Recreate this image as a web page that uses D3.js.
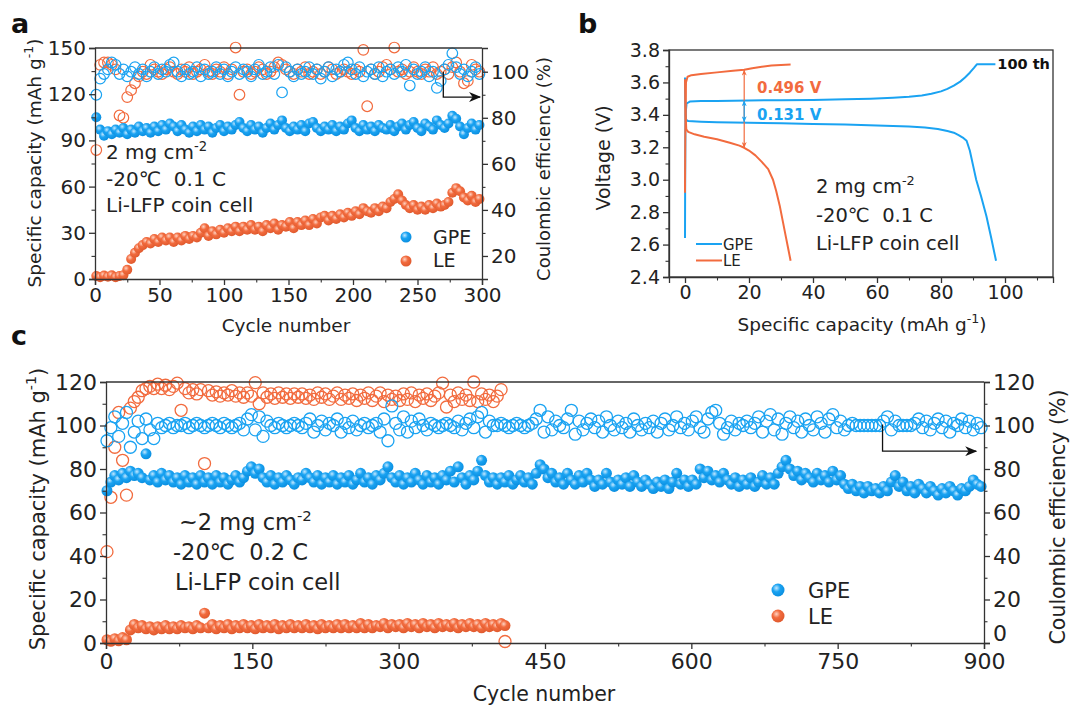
<!DOCTYPE html>
<html>
<head>
<meta charset="utf-8">
<title>GPE vs LE cycling at -20 C</title>
<script src="https://cdnjs.cloudflare.com/ajax/libs/d3/7.8.5/d3.min.js"></script>
<style>
  body { margin: 0; background: #fff; }
  text { font-family: 'DejaVu Sans', Arial, sans-serif; fill: #222; }
</style>
</head>
<body>
<script>
// ---- panel a : 0.1 C, every 3rd cycle (1, 4, 7 ... 298) ----
var aStep = 3;
var aGpeCap = [105,97,93,96,94,97,95,98,94,97,95,99,96,98,95,99,96,100,97,101,
  99,96,100,97,95,99,96,100,97,99,95,98,100,96,99,97,100,102,98,96,
  100,97,99,95,98,101,97,100,103,98,96,99,97,100,96,101,102,98,96,99,
  97,100,96,99,97,101,103,98,96,100,97,99,96,100,98,97,100,96,99,101,
  97,100,102,98,96,101,99,97,103,100,98,101,106,104,99,94,98,101,97,100];
var aGpeCe = [90,97,99,101,104,103,99,101,98,100,102,99,101,98,100,102,99,101,100,103,
  104,100,98,101,99,100,102,98,101,99,100,102,99,101,98,100,102,99,101,100,
  98,101,103,99,100,102,99,103,91,102,100,98,101,99,100,102,99,101,97,100,
  102,98,101,100,103,104,101,99,102,98,100,101,99,102,98,100,101,99,102,100,
  103,94,101,99,100,102,98,100,93,96,101,103,108,102,99,101,98,100,102,99];
var aLeCap = [2,1.2,2.2,1.5,2.4,1.2,2,2.5,6,13,17,20,22,24,23,26,24,27,25,27,
  24,27,25,28,26,28,27,30,33,28,31,29,32,30,33,31,34,31,34,32,
  35,32,34,31,35,33,36,32,35,34,37,33,37,35,38,35,39,36,40,41,
  38,41,39,42,40,43,41,44,42,46,44,43,46,44,47,46,50,52,55,51,
  48,46,48,45,47,45,48,46,49,47,48,50,56,59,57,53,51,54,50,52];
var aLeCe = [66,103,104,104,103,101,81,80,89,92,95,98,100,99,103,101,100,99,101,102,
  100,99,101,100,102,99,100,101,103,100,99,101,100,102,99,101,110.5,90,100,101,
  99,100,102,101,99,100,102,104,103,101,100,99,101,100,102,99,100,101,99,100,
  102,101,99,100,101,100,99,101,100,109.5,85,101,99,100,102,103,101,110.5,100,101,
  99,100,102,100,99,101,100,102,99,100,101,99,102,104,100,95,96,103,101,100];

// ---- panel b : voltage profiles, 100th cycle, [capacity, V] ----
var bGpeCharge = [[0,2.64],[0.05,3.0],[0.15,3.4],[0.5,3.47],[1.5,3.482],[5,3.485],[10,3.486],[20,3.489],[30,3.49],
  [40,3.492],[50,3.496],[58,3.5],[65,3.506],[70,3.512],[74,3.52],[77,3.53],[80,3.545],[82,3.56],[84,3.58],
  [86,3.605],[87.5,3.63],[89,3.66],[90.3,3.69],[91.2,3.712],[97,3.712]];
var bGpeDischarge = [[0,3.63],[0.1,3.45],[0.3,3.37],[1,3.362],[5,3.358],[10,3.355],[20,3.352],[30,3.348],
  [40,3.344],[50,3.34],[60,3.335],[70,3.328],[75,3.322],[79,3.313],[82,3.3],[84,3.29],[85.5,3.275],
  [86.8,3.26],[88,3.24],[89,3.18],[90,3.09],[91,3.0],[92.5,2.9],[94.2,2.775],[95.7,2.64],[97.2,2.5]];
var bLeCharge = [[0,2.92],[0.1,3.3],[0.3,3.6],[0.8,3.635],[2,3.645],[5,3.652],[10,3.662],[15,3.672],
  [18.5,3.678],[21,3.688],[24,3.697],[27,3.704],[30,3.708],[33,3.71]];
var bLeDischarge = [[0,3.62],[0.15,3.42],[0.4,3.31],[1,3.295],[3,3.28],[6,3.265],[10,3.25],[14,3.228],
  [17,3.21],[18.5,3.197],[20,3.18],[22,3.15],[24,3.11],[26,3.065],[27.5,3.0],[28.5,2.93],[29.6,2.84],
  [30.6,2.74],[31.6,2.64],[32.4,2.56],[33,2.5]];
var bGap = {cap: 18.5, le: [3.676, 3.199], gpe: [3.487, 3.357]};

// ---- panel c : 0.2 C, every 4th cycle (1, 5, 9 ...) ----
var cStep = 4;
var cGpeCap = [70,74,77,75,78,76,79,77,78,76,87,75,77,74,78,75,77,74,76,73,77,74,76,73,77,
  74,76,73,77,74,76,73,75,77,74,76,79,81,78,80,76,74,77,73,76,74,77,75,73,76,
  75,78,76,74,77,73,76,74,77,73,76,74,77,73,75,78,74,76,73,77,75,78,81,76,74,
  77,73,76,74,78,75,73,77,74,76,73,77,75,79,74,81,76,73,77,75,79,84,77,74,76,
  73,76,74,77,73,75,77,74,76,73,78,82,80,76,78,74,76,73,78,75,73,77,74,78,75,
  72,75,73,78,74,72,75,73,76,72,77,74,72,75,73,71,74,72,75,71,74,78,73,75,72,
  75,73,80,76,79,75,77,74,78,75,73,76,72,75,73,76,72,74,77,73,76,73,78,81,84,
  80,77,79,75,78,76,74,78,75,77,74,79,75,77,73,71,73,70,72,69,72,70,71,69,72,
  70,74,77,72,74,70,72,69,73,71,69,72,70,68,71,69,72,70,68,71,70,72,75,73,72];
var cGpeCe = [93,99,104,95,101,106,90,97,102,94,103,98,94,101,99,100,101,99,100,100,101,99,100,101,100,
  99,100,101,100,99,101,100,99,100,101,98,103,105,98,104,95,102,100,99,101,100,99,100,101,100,
  99,101,103,97,100,102,98,101,100,103,97,101,99,102,98,100,101,99,100,101,97,103,93,109,101,
  98,104,97,102,99,103,100,98,101,100,99,100,101,100,99,102,98,101,103,99,104,106,97,102,100,
  100,101,100,99,100,101,100,99,100,101,103,107,97,104,98,102,100,99,103,107,96,102,98,101,103,
  99,102,97,104,100,98,102,99,101,97,103,100,98,101,99,102,97,101,103,98,100,104,99,101,98,
  102,104,99,97,103,106,107,101,96,99,102,98,101,100,102,99,101,104,97,102,105,98,103,96,101,
  104,99,102,97,103,100,98,104,101,97,103,105,99,102,98,100,101,100,100,100,100,100,100,100,102,
  104,98,102,100,100,100,100,101,103,99,102,98,101,103,99,102,97,101,100,103,99,102,98,101,99];
var cLeCap = [1.5,0.8,2,1,2.5,1.5,6,8.5,7,8,6.5,7.5,6,7.5,6.5,8,6.5,7.5,6.5,8,7,7.5,6.5,8,7,
  13.7,7,8.5,6.5,8,7,8.5,6.5,8,7,8.5,7,8,6.5,8.5,7,8,7,8.5,6.5,8,7,8.5,7,8,
  7,8.5,7,8,6.5,8.5,7,8,7,8.5,7,8.5,7,8,7,9,7,8.5,7,8,7.5,9,7,8.5,7.5,
  8.5,7,9,7.5,8.5,7,9,7.5,8.5,7,9,7.5,8.5,7.5,9,7,8.5,7.5,9,7.5,8.5,7,9,7.5,8.5,
  7.5,9,8];
var cLeCe = [42,67,90,106,84,68,108,111,113,116,117,118,117,119,117,118.5,116.5,118,119.5,107,117,115,116.5,114.5,116.5,
  82.5,116,114,115.5,113.5,115,114,116,113.5,115,113,115,113.5,119.7,110,115,113,114.5,112.5,115,113,114.5,112.5,114.5,113,
  114.5,112.5,114,112,115,113,114.5,112,113.5,115,112,114,112.5,114.5,111.5,114,112.5,115,111.5,113.5,115,111,114,112,113.5,
  111.5,114.5,112,115,111,114,112.5,114.5,111.5,113.5,115,119.5,108.5,114,111,115,112,114,111.5,120,111,114.5,112,114,111,
  113.5,116.5,0.7];

var blue = "#1aa3f2", orange = "#f26b3e", ink = "#333";
var FONT = "'DejaVu Sans', Arial, sans-serif";

var svg = d3.select("body").append("svg").attr("width", 1071).attr("height", 709);
var defs = svg.append("defs");

function ball(id, light, mid, dark) {
  var gr = defs.append("radialGradient").attr("id", id)
    .attr("cx", "38%").attr("cy", "35%").attr("r", "65%");
  gr.append("stop").attr("offset", "0%").attr("stop-color", light);
  gr.append("stop").attr("offset", "45%").attr("stop-color", mid);
  gr.append("stop").attr("offset", "100%").attr("stop-color", dark);
}
ball("ballB", "#c4e8ff", blue, "#0b8fe0");
ball("ballO", "#ffd3c2", orange, "#e05a2e");

function arrowMarker(id, color, w, h) {
  defs.append("marker").attr("id", id).attr("viewBox", "0 0 12 10")
    .attr("refX", 11).attr("refY", 5).attr("markerWidth", w).attr("markerHeight", h)
    .attr("markerUnits", "userSpaceOnUse").attr("orient", "auto-start-reverse")
    .append("path").attr("d", "M0,0 L12,5 L0,10 L3.5,5 Z").attr("fill", color);
}
arrowMarker("arrK", "#111", 14, 10);
arrowMarker("arrO", orange, 6, 5);
arrowMarker("arrB", blue, 6, 5);

function styleAxis(g, fs) {
  g.select(".domain").attr("stroke", ink).attr("stroke-width", 1.3);
  g.selectAll(".tick line").attr("stroke", ink).attr("stroke-width", 1.3);
  g.selectAll(".tick text").attr("fill", "#222").style("font-size", fs + "px").style("font-family", FONT);
}
function drawAxis(pos, make, scale, major, minor, fs, fmt, pad) {
  var gm = svg.append("g").attr("transform", pos);
  gm.call(make(scale).tickValues(minor).tickSize(3.5).tickFormat(""));
  gm.select(".domain").remove();
  gm.selectAll(".tick line").attr("stroke", ink).attr("stroke-width", 1.1);
  var g = svg.append("g").attr("transform", pos);
  g.call(make(scale).tickValues(major).tickSize(6).tickPadding(pad || 3).tickFormat(fmt || d3.format("d")));
  styleAxis(g, fs);
  return g;
}

function rings(xs, ys, x, y, r, col, sw) {
  svg.append("g").selectAll("circle").data(ys).join("circle")
    .attr("cx", function(d, i) { return x(xs[i]); })
    .attr("cy", function(d) { return y(d); })
    .attr("r", r).attr("fill", "none").attr("stroke", col).attr("stroke-width", sw);
}
function balls(xs, ys, x, y, r, grad) {
  svg.append("g").selectAll("circle").data(ys).join("circle")
    .attr("cx", function(d, i) { return x(xs[i]); })
    .attr("cy", function(d) { return y(d); })
    .attr("r", r).attr("fill", "url(#" + grad + ")");
}
function cyc(arr, step) { return arr.map(function(d, i) { return 1 + step * i; }); }

function title(x, y, fs, rot, main, sup, tail) {
  var t = svg.append("text").attr("text-anchor", "middle").style("font-size", fs + "px")
    .attr("transform", "translate(" + x + "," + y + ")" + (rot ? " rotate(-90)" : ""));
  t.append("tspan").text(main);
  if (sup) {
    t.append("tspan").attr("dy", -fs * 0.42).style("font-size", (fs * 0.68) + "px").text(sup);
    t.append("tspan").attr("dy", fs * 0.42).text(tail);
  }
  return t;
}
function conditions(x, y0, gap, fs, pre, rate) {
  var t = svg.append("text").attr("x", x).attr("y", y0).style("font-size", fs + "px");
  t.append("tspan").text(pre + "2 mg cm");
  t.append("tspan").attr("dy", -fs * 0.42).style("font-size", (fs * 0.66) + "px").text("-2");
  svg.append("text").attr("x", x - (pre ? 6 : 0)).attr("y", y0 + gap).style("font-size", fs + "px")
    .text("-20\u2103\u00a0\u00a0" + rate);
  svg.append("text").attr("x", x - (pre ? 4 : 0)).attr("y", y0 + 2 * gap).style("font-size", fs + "px")
    .text("Li-LFP coin cell");
}
function panelLetter(x, y, s) {
  svg.append("text").attr("x", x).attr("y", y).style("font-size", "27px")
    .style("font-weight", "bold").style("fill", "#111").text(s);
}

// ================= panel a =================
var xa = d3.scaleLinear().domain([0, 300]).range([95, 482]);
var ya = d3.scaleLinear().domain([0, 150]).range([279, 48]);
var yaR = d3.scaleLinear().domain([10, 110.3]).range([279, 48]);
var aCyc = cyc(aGpeCap, aStep);

rings(aCyc, aLeCe, xa, yaR, 5.3, orange, 1.2);
rings(aCyc, aGpeCe, xa, yaR, 5.3, blue, 1.2);
balls(aCyc, aGpeCap, xa, ya, 5, "ballB");
balls(aCyc, aLeCap, xa, ya, 5, "ballO");

svg.append("line").attr("x1", xa(0)).attr("x2", xa(300)).attr("y1", ya(150)).attr("y2", ya(150))
  .attr("stroke", ink).attr("stroke-width", 1.3);
drawAxis("translate(0,279)", d3.axisBottom, xa, d3.range(0, 301, 50), d3.range(25, 300, 50), 20);
drawAxis("translate(95,0)", d3.axisLeft, ya, d3.range(0, 151, 30), d3.range(15, 150, 30), 20);
drawAxis("translate(482,0)", d3.axisRight, yaR, [20, 40, 60, 80, 100], [30, 50, 70, 90], 20);

title(41, 163, 18.5, true, "Specific capacity (mAh g", "-1", ")");
title(550, 169, 18, true, "Coulombic efficiency (%)");
title(286, 332, 18.5, false, "Cycle number");
conditions(106, 159, 26.5, 20, "", "0.1 C");

svg.append("path").attr("fill", "none").attr("stroke", "#111").attr("stroke-width", 1.3)
  .attr("marker-end", "url(#arrK)")
  .attr("d", "M" + xa(270) + "," + yaR(100) + "V" + yaR(89) + "H" + xa(298.5));

svg.append("circle").attr("cx", 406).attr("cy", 237).attr("r", 5.5).attr("fill", "url(#ballB)");
svg.append("circle").attr("cx", 406).attr("cy", 261).attr("r", 5.5).attr("fill", "url(#ballO)");
svg.append("text").attr("x", 433).attr("y", 243.5).style("font-size", "19px").text("GPE");
svg.append("text").attr("x", 433).attr("y", 267).style("font-size", "19px").text("LE");
panelLetter(11, 33, "a");

// ================= panel b =================
var xb = d3.scaleLinear().domain([-5, 115]).range([669, 1053]);
var yb = d3.scaleLinear().domain([2.4, 3.8]).range([277, 50]);
var vline = d3.line().x(function(d) { return xb(d[0]); }).y(function(d) { return yb(d[1]); });

[[bGpeCharge, blue], [bGpeDischarge, blue], [bLeCharge, orange], [bLeDischarge, orange]].forEach(function(s) {
  svg.append("path").datum(s[0]).attr("d", vline).attr("fill", "none")
    .attr("stroke", s[1]).attr("stroke-width", 2).attr("stroke-linejoin", "round");
});

svg.append("line").attr("x1", xb(bGap.cap)).attr("x2", xb(bGap.cap))
  .attr("y1", yb(bGap.le[0])).attr("y2", yb(bGap.le[1]))
  .attr("stroke", orange).attr("stroke-width", 1.2)
  .attr("marker-start", "url(#arrO)").attr("marker-end", "url(#arrO)");
svg.append("line").attr("x1", xb(bGap.cap)).attr("x2", xb(bGap.cap))
  .attr("y1", yb(bGap.gpe[0])).attr("y2", yb(bGap.gpe[1]))
  .attr("stroke", blue).attr("stroke-width", 1.2)
  .attr("marker-start", "url(#arrB)").attr("marker-end", "url(#arrB)");
svg.append("text").attr("x", 757).attr("y", 93).style("font-size", "15px").style("font-weight", "bold")
  .style("fill", orange).text("0.496 V");
svg.append("text").attr("x", 757).attr("y", 120).style("font-size", "15px").style("font-weight", "bold")
  .style("fill", blue).text("0.131 V");
svg.append("text").attr("x", xb(97.6)).attr("y", yb(3.712) + 5).style("font-size", "14.5px")
  .style("font-weight", "bold").style("fill", "#111").text("100 th");

svg.append("rect").attr("x", 669).attr("y", 50).attr("width", 384).attr("height", 227)
  .attr("fill", "none").attr("stroke", ink).attr("stroke-width", 1.3);
drawAxis("translate(0,277)", d3.axisBottom, xb, d3.range(0, 101, 20), d3.range(10, 111, 20), 19);
drawAxis("translate(669,0)", d3.axisLeft, yb, [2.4, 2.6, 2.8, 3.0, 3.2, 3.4, 3.6, 3.8],
  [2.5, 2.7, 2.9, 3.1, 3.3, 3.5, 3.7], 19, d3.format(".1f"));

title(610, 158, 19, true, "Voltage (V)");
title(862, 331, 18.5, false, "Specific capacity (mAh g", "-1", ")");
conditions(816, 193, 28.5, 19.5, "", "0.1 C");

svg.append("line").attr("x1", 696).attr("x2", 722).attr("y1", 244).attr("y2", 244)
  .attr("stroke", blue).attr("stroke-width", 2);
svg.append("line").attr("x1", 696).attr("x2", 722).attr("y1", 260.5).attr("y2", 260.5)
  .attr("stroke", orange).attr("stroke-width", 2);
svg.append("text").attr("x", 723).attr("y", 249.5).style("font-size", "15px").text("GPE");
svg.append("text").attr("x", 723).attr("y", 266).style("font-size", "15px").text("LE");
panelLetter(578, 33, "b");

// ================= panel c =================
var xc = d3.scaleLinear().domain([0, 900]).range([106, 984]);
var yc = d3.scaleLinear().domain([0, 120]).range([643, 382]);
var cCycG = cyc(cGpeCap, cStep), cCycL = cyc(cLeCap, cStep);

rings(cCycL, cLeCe, xc, yc, 6, orange, 1.3);
rings(cCycG, cGpeCe, xc, yc, 6, blue, 1.3);
balls(cCycG, cGpeCap, xc, yc, 5.5, "ballB");
balls(cCycL, cLeCap, xc, yc, 5.5, "ballO");

svg.append("line").attr("x1", xc(0)).attr("x2", xc(900)).attr("y1", yc(120)).attr("y2", yc(120))
  .attr("stroke", ink).attr("stroke-width", 1.3);
drawAxis("translate(0,643)", d3.axisBottom, xc, d3.range(0, 901, 150), d3.range(75, 900, 150), 22, null, 4);
drawAxis("translate(106,0)", d3.axisLeft, yc, d3.range(0, 121, 20), d3.range(10, 120, 20), 22);
drawAxis("translate(984,0)", d3.axisRight, yc, d3.range(0, 121, 20), d3.range(10, 120, 20), 22)
  .selectAll(".tick text").filter(function(d) { return d === 0; }).attr("dy", "-0.1em");

title(45, 509, 21, true, "Specific capacity (mAh g", "-1", ")");
title(1065, 517, 20.5, true, "Coulombic efficiency (%)");
title(544, 701, 20.5, false, "Cycle number");
conditions(179, 530, 30, 22.5, "~", "0.2 C");

svg.append("path").attr("fill", "none").attr("stroke", "#111").attr("stroke-width", 1.3)
  .attr("marker-end", "url(#arrK)")
  .attr("d", "M" + xc(796) + "," + yc(100.5) + "V" + yc(88.2) + "H" + xc(892));

svg.append("circle").attr("cx", 778).attr("cy", 590).attr("r", 6.5).attr("fill", "url(#ballB)");
svg.append("circle").attr("cx", 778).attr("cy", 616).attr("r", 6.5).attr("fill", "url(#ballO)");
svg.append("text").attr("x", 808).attr("y", 597.5).style("font-size", "21px").text("GPE");
svg.append("text").attr("x", 808).attr("y", 623.5).style("font-size", "21px").text("LE");
panelLetter(11, 345, "c");
</script>
</body>
</html>
